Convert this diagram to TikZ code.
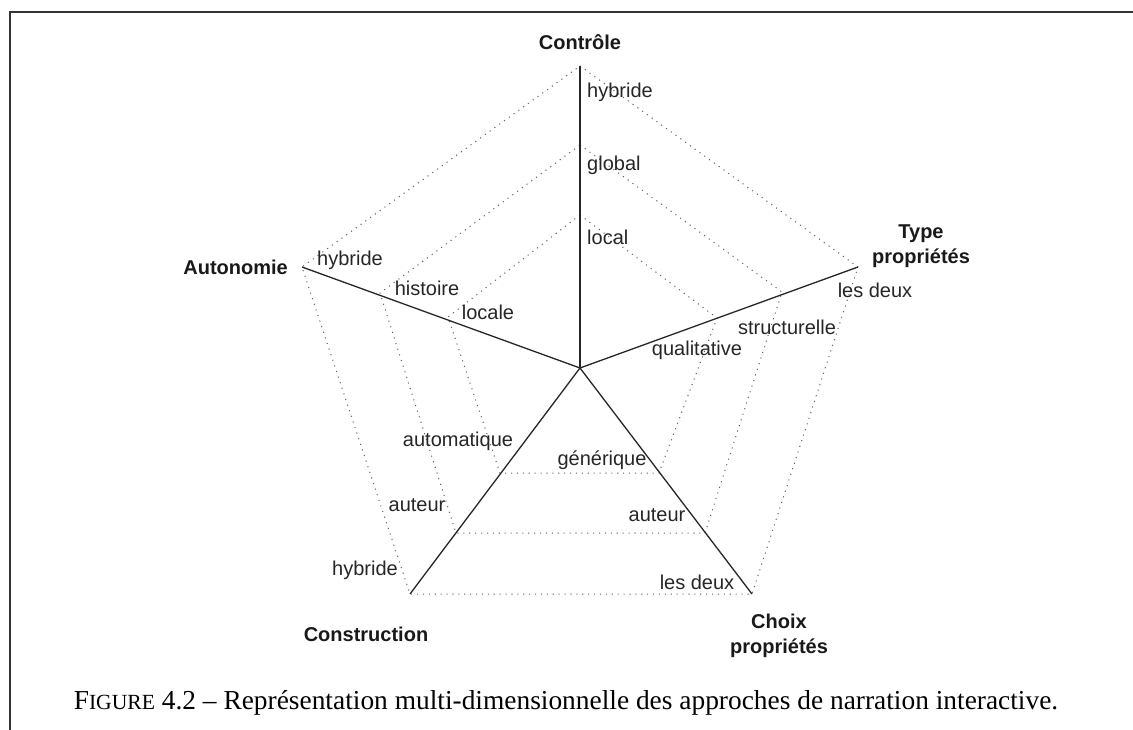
\documentclass[tikz,border=0pt]{standalone}
\usepackage{fontspec}
\setmainfont{Liberation Serif}
\setsansfont{Liberation Sans}
\begin{document}
\begin{tikzpicture}[x=1pt,y=-1pt,
  axis/.style={line width=1.3pt, black!85},
  lvl/.style={line width=1pt, black!62, dash pattern=on 1.1pt off 4.8pt},
  val/.style={font=\sffamily\fontsize{20}{22}\selectfont, text=black!85, inner sep=0pt},
  dim/.style={font=\sffamily\bfseries\fontsize{20}{25}\selectfont, text=black!90, inner sep=0pt, align=center},
  frame/.style={line width=2pt, black!80}]
\useasboundingbox (0,0) rectangle (1133,730);
% frame
\coordinate (f1) at (10,12);
\coordinate (f2) at (1133,12);
\coordinate (f3) at (10,730);
\draw[frame] (f2) -- (f1) -- (f3);
% axis points
\coordinate (O) at (580,368);
\coordinate (C3) at (580,66);  \coordinate (C2) at (580,145); \coordinate (C1) at (580,215);
\coordinate (T3) at (858,267); \coordinate (T2) at (782,292); \coordinate (T1) at (717,318);
\coordinate (A3) at (302,267); \coordinate (A2) at (380,293); \coordinate (A1) at (448,317);
\coordinate (K3) at (410,594); \coordinate (K2) at (456,533); \coordinate (K1) at (500,473);
\coordinate (P3) at (752,594); \coordinate (P2) at (705,533); \coordinate (P1) at (659,473);
% level polygons
\foreach \i in {1,2,3}{
  \draw[lvl] (C\i) -- (T\i) -- (P\i) -- (K\i) -- (A\i) -- cycle;
}
% axes
\draw[axis] (O) -- (C3);
\draw[axis] (O) -- (T3);
\draw[axis] (O) -- (A3);
\draw[axis] (O) -- (K3);
\draw[axis] (O) -- (P3);
% dimension labels
\node[dim] (nC) at (580,42) {Contrôle};
\node[dim] (nT) at (921,246) {Type\\propriétés};
\node[dim, anchor=east] (nA) at (288,267) {Autonomie};
\node[dim] (nK) at (366,634) {Construction};
\node[dim] (nP) at (779,636) {Choix\\propriétés};
% values Contrôle
\node[val, anchor=west] (c3) at (587,92) {hybride};
\node[val, anchor=west] (c2) at (587,165) {global};
\node[val, anchor=west] (c1) at (587,237) {local};
% values Autonomie
\node[val] (a3) at (350,260) {hybride};
\node[val] (a2) at (427,288) {histoire};
\node[val] (a1) at (488,312) {locale};
% values Type
\node[val] (t3) at (875,290) {les deux};
\node[val] (t2) at (787,327) {structurelle};
\node[val] (t1) at (697,350) {qualitative};
% values Construction
\node[val] (k1) at (458,441) {automatique};
\node[val] (k2) at (417,505) {auteur};
\node[val] (k3) at (365,570) {hybride};
% values Choix
\node[val] (p1) at (602,460) {générique};
\node[val] (p2) at (657,515) {auteur};
\node[val] (p3) at (697,582) {les deux};
% caption
\node[font=\fontsize{27.4}{30}\selectfont, inner sep=0pt] (cap) at (566,703)
  {F{\fontsize{21.6}{24}\selectfont IGURE} 4.2 – Représentation multi-dimensionnelle des approches de narration interactive.};
\end{tikzpicture}
\end{document}
